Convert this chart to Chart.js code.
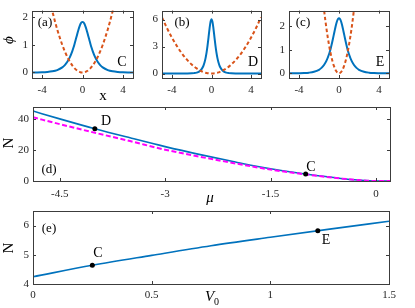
<!DOCTYPE html>
<html>
<head>
<meta charset="utf-8">
<script src="https://cdn.jsdelivr.net/npm/chart.js@4.4.1/dist/chart.umd.min.js"></script>
<style>
html, body { margin: 0; padding: 0; background: #fff; }
#wrap { position: relative; width: 415px; height: 308px; overflow: hidden; }
canvas { position: absolute; left: 0; top: 0; }
.t { position: absolute; font-family: "Liberation Serif", serif; color: #000; transform: translate(-50%, -50%); white-space: nowrap; line-height: 1; }
.r { transform: translate(-50%, -50%) rotate(-90deg); }
</style>
</head>
<body>
<div id="wrap">
  <canvas id="pa" width="415" height="308"></canvas>
  <canvas id="pb" width="415" height="308"></canvas>
  <canvas id="pc" width="415" height="308"></canvas>
  <canvas id="pd" width="415" height="308"></canvas>
  <canvas id="pe" width="415" height="308"></canvas>

  <div class="t" style="left:45px;top:21px;font-size:13px">(a)</div>
  <div class="t" style="left:182px;top:21px;font-size:13px">(b)</div>
  <div class="t" style="left:303px;top:21px;font-size:13px">(c)</div>
  <div class="t" style="left:49px;top:168px;font-size:13px">(d)</div>
  <div class="t" style="left:49px;top:227px;font-size:13px">(e)</div>

  <div class="t" style="left:122px;top:62px;font-size:14px">C</div>
  <div class="t" style="left:253px;top:62px;font-size:14px">D</div>
  <div class="t" style="left:380px;top:62px;font-size:14px">E</div>
  <div class="t" style="left:106px;top:121px;font-size:14px">D</div>
  <div class="t" style="left:311px;top:167px;font-size:14px">C</div>
  <div class="t" style="left:98px;top:253px;font-size:14px">C</div>
  <div class="t" style="left:326px;top:240px;font-size:14px">E</div>

  <div class="t r" style="left:8px;top:40px;font-size:15px;font-style:italic">ϕ</div>
  <div class="t" style="left:103px;top:95px;font-size:15px">x</div>
  <div class="t r" style="left:8px;top:143px;font-size:15px">N</div>
  <div class="t" style="left:210px;top:197px;font-size:15px;font-style:italic">μ</div>
  <div class="t r" style="left:8px;top:248px;font-size:15px">N</div>
  <div class="t" style="left:212px;top:298px;font-size:15px;font-style:italic">V<sub style="font-size:10px;font-style:normal">0</sub></div>
</div>
<script>
// profile panels (a)-(c)
const xs = [-5, -4.5, -4, -3.5, -3, -2.5, -2, -1.75, -1.5, -1.25, -1, -0.9, -0.8, -0.7, -0.6, -0.5, -0.4, -0.3, -0.2, -0.1, 0,
  0.1, 0.2, 0.3, 0.4, 0.5, 0.6, 0.7, 0.8, 0.9, 1, 1.25, 1.5, 1.75, 2, 2.5, 3, 3.5, 4, 4.5, 5];
const phiA = [0.002, 0.004, 0.009, 0.02, 0.042, 0.088, 0.185, 0.269, 0.388, 0.556, 0.788, 0.899, 1.021, 1.155, 1.288, 1.423, 1.554, 1.67, 1.761, 1.82, 1.84,
  1.82, 1.761, 1.67, 1.554, 1.423, 1.288, 1.155, 1.021, 0.899, 0.788, 0.556, 0.388, 0.269, 0.185, 0.088, 0.042, 0.02, 0.009, 0.004, 0.002];
const phiB = [0, 0, 0, 0, 0.001, 0.004, 0.019, 0.043, 0.096, 0.215, 0.48, 0.662, 0.911, 1.251, 1.712, 2.319, 3.096, 4.017, 4.978, 5.748, 6.05,
  5.748, 4.978, 4.017, 3.096, 2.319, 1.712, 1.251, 0.911, 0.662, 0.48, 0.215, 0.096, 0.043, 0.019, 0.004, 0.001, 0, 0, 0, 0];
const phiC = [0.001, 0.002, 0.005, 0.011, 0.026, 0.063, 0.148, 0.228, 0.349, 0.533, 0.805, 0.945, 1.103, 1.28, 1.47, 1.67, 1.868, 2.05, 2.198, 2.296, 2.33,
  2.296, 2.198, 2.05, 1.868, 1.67, 1.47, 1.28, 1.103, 0.945, 0.805, 0.533, 0.349, 0.228, 0.148, 0.063, 0.026, 0.011, 0.005, 0.002, 0.001];
const potAB = [6.25, 5.063, 4, 3.063, 2.25, 1.563, 1, 0.766, 0.563, 0.391, 0.25, 0.2025, 0.16, 0.1225, 0.09, 0.0625, 0.04, 0.0225, 0.01, 0.0025, 0,
  0.0025, 0.01, 0.0225, 0.04, 0.0625, 0.09, 0.1225, 0.16, 0.2025, 0.25, 0.391, 0.563, 0.766, 1, 1.563, 2.25, 3.063, 4, 5.063, 6.25];
const potC = [30, 24.3, 19.2, 14.7, 10.8, 7.5, 4.8, 3.675, 2.7, 1.875, 1.2, 0.972, 0.768, 0.588, 0.432, 0.3, 0.192, 0.108, 0.048, 0.012, 0,
  0.012, 0.048, 0.108, 0.192, 0.3, 0.432, 0.588, 0.768, 0.972, 1.2, 1.875, 2.7, 3.675, 4.8, 7.5, 10.8, 14.7, 19.2, 24.3, 30];

// panel (d): N vs mu
const mu = [-4.88, -4.5, -4, -3.5, -3, -2.5, -2, -1.5, -1, -0.5, -0.25, 0, 0.2];
const nMu = [45.4, 40.3, 33.9, 28.0, 22.3, 17.1, 12.3, 7.9, 4.55, 1.67, 0.61, 0, 0];
const nMuApprox = [41.3, 36.9, 31.3, 25.9, 20.3, 15.7, 11.4, 7.4, 4.3, 1.6, 0.58, 0, 0];
const markD = [{ x: -4, y: 33.9 }, { x: -1, y: 4.55 }];

// panel (e): N vs V0
const v0 = [0, 0.25, 0.5, 0.75, 1, 1.25, 1.5];
const nV0 = [4.25, 4.64, 4.98, 5.31, 5.6, 5.88, 6.15];
const markE = [{ x: 0.25, y: 4.64 }, { x: 1.2, y: 5.82 }];

const W = 415, H = 308;
const BLUE = '#0072BD', ORANGE = '#D95319', MAGENTA = '#FF00FF';
const TICK_FONT = { family: 'Liberation Serif', size: 11 };

const boxPlugin = {
  id: 'box',
  afterDraw(chart) {
    const { ctx, chartArea: a, scales } = chart;
    ctx.save();
    ctx.strokeStyle = '#3c3c3c';
    ctx.lineWidth = 1;
    ctx.strokeRect(Math.round(a.left) + 0.5, Math.round(a.top) + 0.5, Math.round(a.right - a.left), Math.round(a.bottom - a.top));
    ctx.beginPath();
    scales.x.ticks.forEach(t => {
      const px = Math.round(scales.x.getPixelForValue(t.value)) + 0.5;
      ctx.moveTo(px, a.bottom); ctx.lineTo(px, a.bottom - 3);
      ctx.moveTo(px, a.top); ctx.lineTo(px, a.top + 3);
    });
    scales.y.ticks.forEach(t => {
      const py = Math.round(scales.y.getPixelForValue(t.value)) + 0.5;
      ctx.moveTo(a.left, py); ctx.lineTo(a.left + 3, py);
      ctx.moveTo(a.right, py); ctx.lineTo(a.right - 3, py);
    });
    ctx.stroke();
    ctx.restore();
  }
};

function pts(xv, yv) {
  return xv.map((x, i) => ({ x: x, y: yv[i] }));
}

function panel(id, area, xr, yr, xt, yt, xPad, datasets) {
  const YW = 30, XH = 20;
  new Chart(document.getElementById(id), {
    type: 'line',
    data: { datasets: datasets },
    options: {
      responsive: false,
      animation: false,
      events: [],
      layout: {
        autoPadding: false,
        padding: { left: area[0] - YW, top: area[1], right: W - area[2], bottom: H - area[3] - XH }
      },
      plugins: { legend: { display: false }, tooltip: { enabled: false } },
      elements: { point: { radius: 0 } },
      scales: {
        x: {
          type: 'linear', min: xr[0], max: xr[1],
          afterBuildTicks: s => { s.ticks = xt.map(v => ({ value: v })); },
          afterFit: s => { s.height = XH; },
          grid: { display: false, drawTicks: false },
          border: { display: false },
          ticks: { font: TICK_FONT, color: '#262626', padding: xPad, maxRotation: 0, autoSkip: false, callback: v => String(v) }
        },
        y: {
          type: 'linear', min: yr[0], max: yr[1],
          afterBuildTicks: s => { s.ticks = yt.map(v => ({ value: v })); },
          afterFit: s => { s.width = YW; },
          grid: { display: false, drawTicks: false },
          border: { display: false },
          ticks: { font: TICK_FONT, color: '#262626', padding: 4, autoSkip: false, callback: v => String(v) }
        }
      }
    },
    plugins: [boxPlugin]
  });
}

const solid = (d, w) => ({ data: d, borderColor: BLUE, borderWidth: w, cubicInterpolationMode: 'monotone', pointRadius: 0 });
const dashed = (d, c, dash) => ({ data: d, borderColor: c, borderWidth: 2, borderDash: dash, cubicInterpolationMode: 'monotone', pointRadius: 0 });
const marks = d => ({ data: d, showLine: false, pointRadius: 2.5, pointBackgroundColor: '#000', pointBorderWidth: 0 });

panel('pa', [32, 6, 133, 78], [-5, 5], [-0.2, 2.25], [-4, 0, 4], [0, 1, 2], 6,
  [dashed(pts(xs, potAB), ORANGE, [3.5, 2.5]), solid(pts(xs, phiA), 2)]);
panel('pb', [162, 6, 261, 78], [-5, 5], [-0.5, 7], [-4, 0, 4], [0, 3, 6], 6,
  [dashed(pts(xs, potAB), ORANGE, [3.5, 2.5]), solid(pts(xs, phiB), 2)]);
panel('pc', [289, 6, 389, 78], [-5, 5], [-0.2, 2.65], [-4, 0, 4], [0, 1, 2], 6,
  [dashed(pts(xs, potC), ORANGE, [3.5, 2.5]), solid(pts(xs, phiC), 2)]);
panel('pd', [33, 107, 390, 181], [-4.88, 0.2], [0, 48], [-4.5, -3, -1.5, 0], [0, 20, 40], 7,
  [marks(markD), dashed(pts(mu, nMuApprox), MAGENTA, [5, 2.5]), solid(pts(mu, nMu), 1.6)]);
panel('pe', [33, 211, 389, 284], [0, 1.5], [4, 6.5], [0, 0.5, 1, 1.5], [4, 5, 6], 5,
  [marks(markE), solid(pts(v0, nV0), 1.6)]);
</script>
</body>
</html>
